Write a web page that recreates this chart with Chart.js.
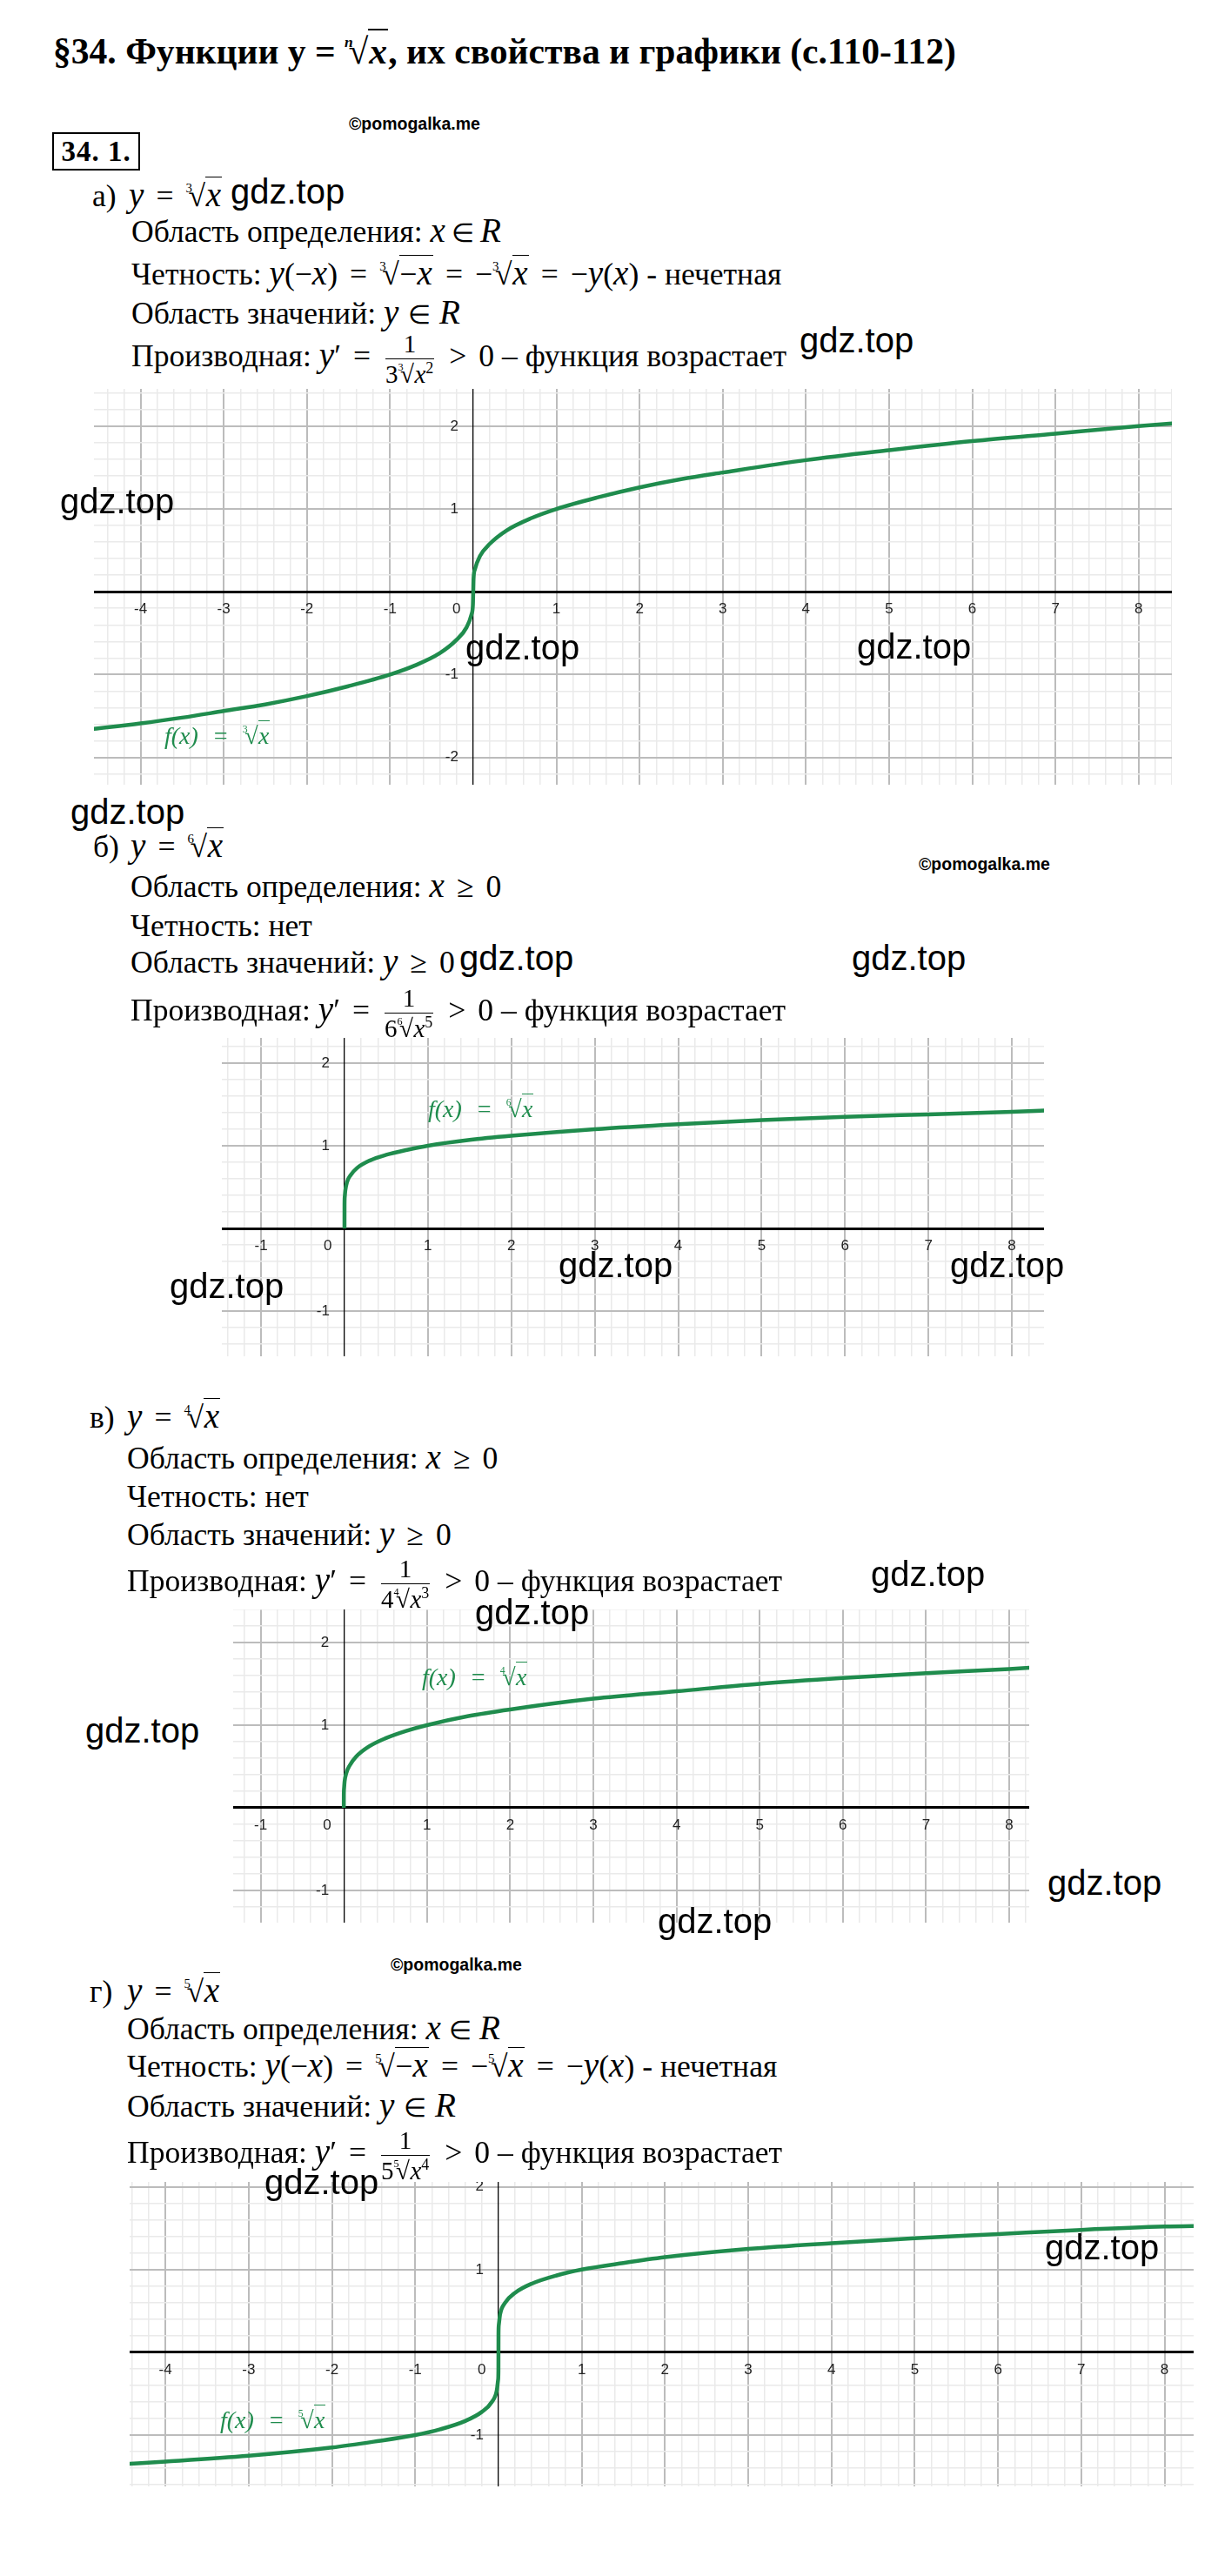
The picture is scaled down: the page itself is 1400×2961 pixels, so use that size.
<!DOCTYPE html>
<html lang="ru">
<head>
<meta charset="utf-8">
<title>§34. Функции y = ⁿ√x</title>
<script src="https://cdn.jsdelivr.net/npm/chart.js@4.4.1/dist/chart.umd.min.js"></script>
<style>
  html, body { margin: 0; padding: 0; background: #fff; }
  #page { position: relative; width: 1400px; height: 2961px; overflow: hidden; background: #fff; color: #000; }
  .t { position: absolute; white-space: nowrap; font-family: 'Liberation Serif', 'Times New Roman', serif; font-size: 35px; line-height: 1; }
  .t i { font-style: italic; font-size: 1.1em; line-height: 0; }
  .title { font-weight: bold; font-size: 36px; }
  .title i { font-size: 1em; }
  .num { position: absolute; left: 60px; top: 152px; width: 101px; height: 44px; box-sizing: border-box; border: 2.5px solid #000; font: bold 33px/40px 'Liberation Serif', serif; text-align: center; letter-spacing: 1px; }
  .wm { position: absolute; white-space: nowrap; font: 40px/1 'Liberation Sans', Arial, sans-serif; z-index: 5; }
  .pm { position: absolute; white-space: nowrap; font: bold 19.5px/1 'Liberation Sans', Arial, sans-serif; }
  .plot { position: absolute; display: block; }
  .fl { position: absolute; white-space: nowrap; color: #1f8c4d; font: italic 28px/1 'Liberation Serif', serif; z-index: 4; }
  .op { margin: 0 0.25em; }
  .el { font-size: 0.85em; line-height: 0; }
  .rt { white-space: nowrap; }
  .rt .ix { font-size: 0.42em; font-style: normal; position: relative; top: -1.1em; margin-right: -0.3em; }
  .rt .sg { font-style: normal; }
  .rt .ov { border-top: 0.05em solid currentColor; padding: 0.03em 0.03em 0 0.02em; }
  .fr { display: inline-block; vertical-align: middle; text-align: center; font-size: 29px; line-height: 1.05; margin: -28px 3px; }
  .fr i { font-size: 1em; }
  .fr .nu { display: block; border-bottom: 1.5px solid #000; padding: 0 2px 1px; }
  .fr .de { display: block; padding-top: 2px; }
  .pw { font-size: 0.62em; position: relative; top: -0.6em; }
</style>
</head>
<body>
<div id="page">
  <div class="num">34. 1.</div>
  <canvas id="g1" class="plot" width="1239" height="455" style="left:108px;top:447px"></canvas>
  <canvas id="g2" class="plot" width="945" height="366" style="left:255px;top:1193px"></canvas>
  <canvas id="g3" class="plot" width="915" height="360" style="left:268px;top:1850px"></canvas>
  <canvas id="g4" class="plot" width="1223" height="350" style="left:149px;top:2508px"></canvas>
</div>
<script>
// values
const cubeX  = [-4.6, -4, -3.5, -3, -2.5, -2, -1.5, -1, -0.7, -0.4, -0.2, -0.08, -0.02, -0.004, 0, 0.004, 0.02, 0.08, 0.2, 0.4, 0.7, 1, 1.5, 2, 2.5, 3, 4, 5, 6, 7, 8, 8.5];
const cubeY  = [-1.66, -1.59, -1.52, -1.44, -1.36, -1.26, -1.14, -1, -0.89, -0.74, -0.58, -0.43, -0.27, -0.16, 0, 0.16, 0.27, 0.43, 0.58, 0.74, 0.89, 1, 1.14, 1.26, 1.36, 1.44, 1.59, 1.71, 1.82, 1.91, 2, 2.04];

const sixthX = [0, 0.0005, 0.003, 0.01, 0.03, 0.07, 0.15, 0.3, 0.5, 0.75, 1, 1.5, 2, 3, 4, 5, 6, 7, 8, 8.5];
const sixthY = [0, 0.28, 0.38, 0.46, 0.56, 0.64, 0.73, 0.82, 0.89, 0.95, 1, 1.07, 1.12, 1.2, 1.26, 1.31, 1.35, 1.38, 1.41, 1.43];

const fourthX = [0, 0.0005, 0.003, 0.01, 0.03, 0.07, 0.15, 0.3, 0.5, 0.75, 1, 1.5, 2, 3, 4, 5, 6, 7, 8, 8.3];
const fourthY = [0, 0.15, 0.23, 0.32, 0.42, 0.51, 0.62, 0.74, 0.84, 0.93, 1, 1.11, 1.19, 1.32, 1.41, 1.5, 1.57, 1.63, 1.68, 1.7];

const fifthX = [-4.5, -4, -3, -2, -1.5, -1, -0.7, -0.4, -0.2, -0.08, -0.02, -0.004, -0.0005, 0, 0.0005, 0.004, 0.02, 0.08, 0.2, 0.4, 0.7, 1, 1.5, 2, 3, 4, 5, 6, 7, 8, 8.5];
const fifthY = [-1.35, -1.32, -1.25, -1.15, -1.08, -1, -0.93, -0.83, -0.72, -0.6, -0.46, -0.33, -0.22, 0, 0.22, 0.33, 0.46, 0.6, 0.72, 0.83, 0.93, 1, 1.08, 1.15, 1.25, 1.32, 1.38, 1.43, 1.48, 1.52, 1.53];

// visible window of each graph: [xMin, xMax, yMin, yMax]
const rangeA = [-4.56, 8.4, -2.33, 2.45];
const rangeB = [-1.47, 8.385, -1.547, 2.305];
const rangeC = [-1.33, 8.24, -1.39, 2.4];
const rangeD = [-4.43, 8.35, -1.62, 2.06];

const MINOR = 0.2;
const CURVE = '#1f8c4d';

// ---- text of the page ----
const X = '<i>x</i>', Y = '<i>y</i>';
const op = s => `<span class="op">${s}</span>`;
const IN = op('<span class="el">∈</span>');
const R = (n, body) => `<span class="rt"><span class="ix">${n}</span><span class="sg">√</span><span class="ov">${body}</span></span>`;
const frac = (a, b) => `<span class="fr"><span class="nu">${a}</span><span class="de">${b}</span></span>`;
const deriv = (n, p) => `Производная: ${Y}′${op('=')}${frac('1', n + R(n, X + '<span class="pw">' + p + '</span>'))}${op('&gt;')}0 – функция возрастает`;
const odd = n => `Четность: ${Y}(−${X})${op('=')}${R(n, '−' + X)}${op('=')}−${R(n, X)}${op('=')}−${Y}(${X}) - нечетная`;

// [left, top, html, extra class, right edge in the picture]
const lines = [
  [61, 39, `§34. Функции у = ${R('<i>n</i>', '<i>x</i>')}, их свойства и графики (с.110-112)`, 'title', 1099],

  [106, 208, 'а)'], [148, 208, `${Y}${op('=')}${R(3, X)}`, '', 265],
  [151, 249, `Область определения: ${X}${IN}<i>R</i>`, '', 575],
  [151, 298, odd(3), '', 954],
  [151, 343, `Область значений: ${Y}${IN}<i>R</i>`, '', 529],
  [151, 392, deriv(3, 2), '', 915],

  [107, 956, 'б)'], [150, 956, `${Y}${op('=')}${R(6, X)}`, '', 266],
  [150, 1002, `Область определения: ${X}${op('≥')}0`, '', 580],
  [150, 1047, 'Четность: нет', 'cal'],
  [150, 1089, `Область значений: ${Y}${op('≥')}0`, '', 528],
  [150, 1144, deriv(6, 5), '', 919],

  [103, 1612, 'в)'], [146, 1612, `${Y}${op('=')}${R(4, X)}`, '', 262],
  [146, 1659, `Область определения: ${X}${op('≥')}0`, '', 580],
  [146, 1703, 'Четность: нет'],
  [146, 1747, `Область значений: ${Y}${op('≥')}0`, '', 526],
  [146, 1800, deriv(4, 3), '', 915],

  [103, 2272, 'г)'], [146, 2272, `${Y}${op('=')}${R(5, X)}`, '', 262],
  [146, 2315, `Область определения: ${X}${IN}<i>R</i>`, '', 575],
  [146, 2358, odd(5), '', 949],
  [146, 2404, `Область значений: ${Y}${IN}<i>R</i>`, '', 524],
  [146, 2457, deriv(5, 4), '', 915]
];

const marks = [[401, 133], [1056, 984], [449, 2249]];
const stamps = [[265, 200], [919, 371], [69, 556], [535, 724], [985, 723], [81, 913], [528, 1081], [979, 1081],
  [642, 1434], [1092, 1434], [195, 1458], [1001, 1789], [546, 1833], [98, 1969], [1204, 2144], [756, 2188], [304, 2488], [1201, 2563]];
// [left, top, root index, right edge]
const fnLabels = [[189, 832, 3, 339], [492, 1261, 6, 642], [485, 1914, 4, 635], [253, 2768, 5, 406]];

const page = document.getElementById('page');
function put(cls, left, top, html) {
  const d = document.createElement('div');
  d.className = cls;
  d.style.left = left + 'px';
  d.style.top = top + 'px';
  d.innerHTML = html;
  page.appendChild(d);
  return d;
}
// widen the space round the math signs (within reason) so a line ends near where it ends in the picture
function fitOps(el, right, left, lo, hi) {
  const ops = el.querySelectorAll('.op');
  if (!ops.length) return;
  ops.forEach(o => { o.style.margin = '0'; });
  const w = el.getBoundingClientRect().width;
  const m = Math.min(hi, Math.max(lo, (right - left - w) / (2 * ops.length)));
  ops.forEach(o => { o.style.margin = `0 ${m}px`; });
}

const textEls = lines.map(([l, t, h, c]) => put('t' + (c ? ' ' + c : ''), l, t, h));
// body font size from the plain line "Четность: нет" (209 px wide in the picture)
const cal = textEls.find(e => e.classList.contains('cal'));
const bodySize = 35 * 209 / cal.getBoundingClientRect().width;
textEls.forEach((e, i) => {
  const [l, , , c, right] = lines[i];
  if (c === 'title') {
    e.style.fontSize = (36 * (right - l) / e.getBoundingClientRect().width) + 'px';
    return;
  }
  e.style.fontSize = bodySize + 'px';
  if (right) fitOps(e, right, l, 7, 14);
});
marks.forEach(([l, t]) => put('pm', l, t, '©pomogalka.me'));
fnLabels.forEach(([l, t, n, right]) => {
  const e = put('fl', l, t, `<i>f</i>(<i>x</i>)${op('=')}${R(n, '<i>x</i>')}`);
  fitOps(e, right, l, 5, 16);
});
stamps.forEach(([l, t]) => put('wm', l, t, 'gdz.top'));

// ---- graphs ----
const isMajor = v => Math.abs(v - Math.round(v)) < 1e-6;
const gridColor = ctx => {
  const v = ctx.tick ? ctx.tick.value : NaN;
  if (Math.abs(v) < 1e-6) return 'rgba(0,0,0,0)';
  return isMajor(v) ? '#bcbcbc' : '#eaeaea';
};
const gridWidth = ctx => (ctx.tick && isMajor(ctx.tick.value) ? 2 : 1.5);
const minorTicks = scale => {
  const out = [];
  for (let k = Math.ceil(scale.min / MINOR - 1e-9); k * MINOR <= scale.max + 1e-9; k++) {
    out.push({ value: Math.round(k * MINOR * 10) / 10 });
  }
  scale.ticks = out;
};
const noPad = s => { s.paddingLeft = s.paddingRight = s.paddingTop = s.paddingBottom = 0; };
const tickFont = { family: "'Liberation Sans', Arial, sans-serif", size: 17 };

function drawGraph(id, xs, ys, r) {
  return new Chart(document.getElementById(id), {
    type: 'line',
    data: {
      datasets: [{
        data: xs.map((x, i) => ({ x, y: ys[i] })),
        borderColor: CURVE,
        borderWidth: 4.5,
        pointRadius: 0,
        cubicInterpolationMode: 'monotone',
        fill: false
      }]
    },
    options: {
      responsive: false,
      animation: false,
      events: [],
      layout: { padding: 0 },
      plugins: { legend: { display: false }, tooltip: { enabled: false } },
      scales: {
        x: {
          type: 'linear', bounds: 'data', min: r[0], max: r[1], position: { y: 0 },
          afterBuildTicks: minorTicks, afterFit: noPad,
          grid: { color: gridColor, lineWidth: gridWidth, drawTicks: false },
          border: { color: '#000', width: 3 },
          ticks: {
            autoSkip: false, maxRotation: 0, minRotation: 0, padding: 10, color: '#222', font: tickFont,
            // GeoGebra puts the origin's "0" a little to the left of the y axis
            callback: v => (isMajor(v) && Math.round(v) !== 0) ? String(Math.round(v)) : (Math.abs(v + MINOR) < 1e-6 ? '0' : '')
          }
        },
        y: {
          type: 'linear', bounds: 'data', min: r[2], max: r[3], position: { x: 0 },
          afterBuildTicks: minorTicks, afterFit: noPad,
          grid: { color: gridColor, lineWidth: gridWidth, drawTicks: false },
          border: { color: '#000', width: 1.3 },
          ticks: {
            autoSkip: false, color: '#222', font: tickFont,
            // labels are right-aligned on the axis itself; the em space keeps them off it
            callback: v => (isMajor(v) && Math.round(v) !== 0) ? String(Math.round(v)) + '\u2003' : ''
          }
        }
      }
    }
  });
}

drawGraph('g1', cubeX, cubeY, rangeA);
drawGraph('g2', sixthX, sixthY, rangeB);
drawGraph('g3', fourthX, fourthY, rangeC);
drawGraph('g4', fifthX, fifthY, rangeD);
</script>
</body>
</html>
